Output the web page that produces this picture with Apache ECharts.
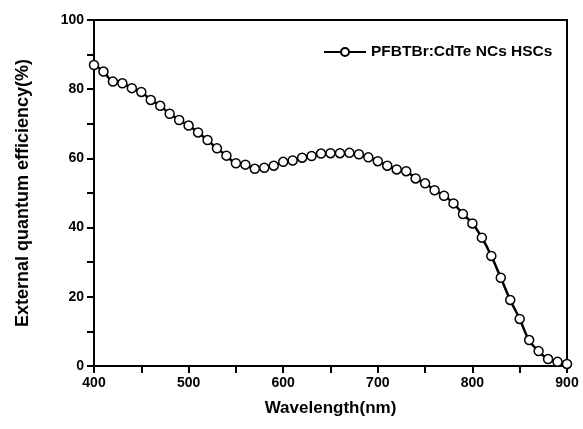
<!DOCTYPE html>
<html>
<head>
<meta charset="utf-8">
<script src="https://cdn.jsdelivr.net/npm/echarts@6/dist/echarts.min.js"></script>
<style>
  html, body { margin: 0; padding: 0; background: #fff; }
  #chart { width: 583px; height: 429px; }
</style>
</head>
<body>
<div id="chart"></div>
<script>
// 波长 (nm)，每 10 nm 一个点
var wavelengths = [400, 410, 420, 430, 440, 450, 460, 470, 480, 490,
                   500, 510, 520, 530, 540, 550, 560, 570, 580, 590,
                   600, 610, 620, 630, 640, 650, 660, 670, 680, 690,
                   700, 710, 720, 730, 740, 750, 760, 770, 780, 790,
                   800, 810, 820, 830, 840, 850, 860, 870, 880, 890, 900];
// EQE (%)
var eqeValues = [87.0, 85.1, 82.2, 81.7, 80.3, 79.2, 76.9, 75.2, 72.9, 71.1,
                 69.5, 67.5, 65.3, 62.9, 60.8, 58.6, 58.2, 57.0, 57.3, 57.9,
                 59.0, 59.4, 60.2, 60.7, 61.4, 61.5, 61.5, 61.6, 61.2, 60.3,
                 59.2, 57.9, 56.8, 56.3, 54.2, 52.8, 50.8, 49.2, 47.0, 43.9,
                 41.2, 37.1, 31.8, 25.5, 19.1, 13.6, 7.5, 4.3, 2.0, 1.2, 0.6];
var seriesName = 'PFBTBr:CdTe NCs HSCs';

var pts = wavelengths.map(function(w, i) { return [w, eqeValues[i]]; });

var font = 'Liberation Sans, Arial, sans-serif';
var myChart = echarts.init(document.getElementById('chart'));
var option = {
    animation: false,
    grid: {
        left: 94, right: 16, top: 20, bottom: 63,
        show: true, borderColor: '#000', borderWidth: 2
    },
    legend: {
        data: [seriesName],
        left: 318, top: 39,
        itemWidth: 42, itemHeight: 10, itemGap: 4,
        textStyle: { fontFamily: font, fontWeight: 'bold', fontSize: 15.5, color: '#000' }
    },
    xAxis: {
        type: 'value', min: 400, max: 900, interval: 100,
        name: 'Wavelength(nm)', nameLocation: 'middle', nameGap: 34,
        nameTextStyle: { fontFamily: font, fontWeight: 'bold', fontSize: 17, color: '#000' },
        axisLine: { lineStyle: { color: '#000', width: 2 } },
        axisTick: { inside: false, length: 7, lineStyle: { width: 2 } },
        minorTick: { show: true, splitNumber: 2, length: 7, lineStyle: { color: '#000', width: 2 } },
        axisLabel: { fontFamily: font, fontWeight: 'bold', fontSize: 14, color: '#000', margin: 10 },
        splitLine: { show: false }
    },
    yAxis: {
        type: 'value', min: 0, max: 100, interval: 20,
        name: 'External quantum efficiency(%)', nameLocation: 'middle', nameGap: 62,
        nameTextStyle: { fontFamily: font, fontWeight: 'bold', fontSize: 18, color: '#000' },
        axisLine: { lineStyle: { color: '#000', width: 2 } },
        axisTick: { inside: false, length: 7, lineStyle: { width: 2 } },
        minorTick: { show: true, splitNumber: 2, length: 7, lineStyle: { color: '#000', width: 2 } },
        axisLabel: { fontFamily: font, fontWeight: 'bold', fontSize: 14, color: '#000', margin: 10 },
        splitLine: { show: false }
    },
    series: [{
        name: seriesName,
        type: 'line',
        smooth: true,
        data: pts,
        symbol: 'circle',
        symbolSize: 9,
        lineStyle: { color: '#000', width: 2.5 },
        itemStyle: { color: '#fff', borderColor: '#000', borderWidth: 1.5 }
    }]
};
myChart.setOption(option);
</script>
</body>
</html>
